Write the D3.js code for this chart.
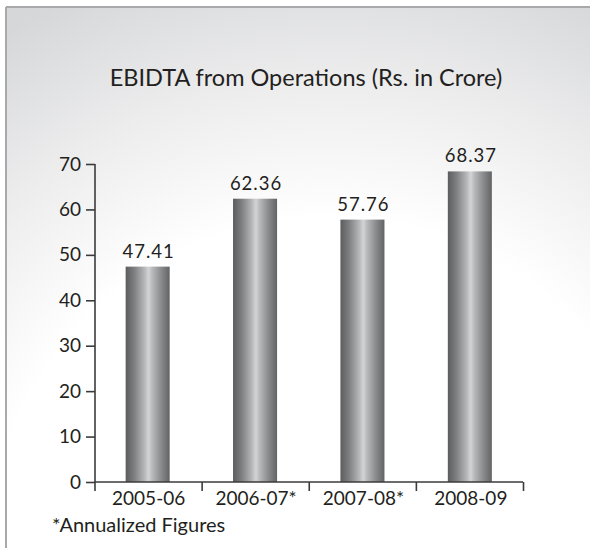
<!DOCTYPE html>
<html>
<head>
<meta charset="utf-8">
<script src="https://cdn.jsdelivr.net/npm/d3@7"></script>
<style>
  html, body { margin: 0; padding: 0; background: #ffffff; }
  svg { display: block; }
  text { font-family: Lato, "Open Sans", sans-serif; fill: #231f20; }
</style>
</head>
<body>
<svg id="chart" width="590" height="548"></svg>
<script>
const title = "EBIDTA from Operations (Rs. in Crore)";
const categories = ["2005-06", "2006-07*", "2007-08*", "2008-09"];
const values = [47.41, 62.36, 57.76, 68.37];
const yTicks = [0, 10, 20, 30, 40, 50, 60, 70];
const footnote = "*Annualized Figures";

const W = 590, H = 548;
const svg = d3.select("#chart");
const defs = svg.append("defs");

const bg = defs.append("radialGradient").attr("id", "bg")
  .attr("gradientUnits", "userSpaceOnUse")
  .attr("cx", 330).attr("cy", 560).attr("r", 620);
bg.append("stop").attr("offset", 0).attr("stop-color", "#ffffff");
bg.append("stop").attr("offset", 0.55).attr("stop-color", "#ffffff");
bg.append("stop").attr("offset", 0.78).attr("stop-color", "#ececed");
bg.append("stop").attr("offset", 1).attr("stop-color", "#d6d7d9");

svg.append("rect").attr("x", 0).attr("y", 0).attr("width", W).attr("height", H).attr("fill", "#fff");
svg.append("rect").attr("x", 6).attr("y", 7).attr("width", W).attr("height", H)
  .attr("fill", "url(#bg)");
svg.append("line").attr("x1", 6).attr("x2", W).attr("y1", 7).attr("y2", 7)
  .attr("stroke", "#a9a9ab").attr("stroke-width", 2);
svg.append("line").attr("x1", 6).attr("x2", 6).attr("y1", 7).attr("y2", H)
  .attr("stroke", "#a9a9ab").attr("stroke-width", 2);

const bar = defs.append("linearGradient").attr("id", "bar")
  .attr("x1", 0).attr("x2", 1).attr("y1", 0).attr("y2", 0);
[[0, "#5b5c5e"], [0.2, "#7f8082"], [0.42, "#b4b5b7"], [0.52, "#d3d4d6"], [0.6, "#b9babc"], [0.8, "#8b8c8e"], [1, "#626365"]]
  .forEach(([o, c]) => bar.append("stop").attr("offset", o).attr("stop-color", c));

const x0 = 94.5, x1 = 523;
const x = d3.scaleBand().domain(categories).range([x0, x1]).paddingInner(0.59).paddingOuter(0.29);
const y = d3.scaleLinear().domain([0, 70]).range([482, 164]);

svg.append("text").attr("x", 306).attr("y", 86).attr("text-anchor", "middle")
  .attr("font-size", 23.5).text(title);

svg.selectAll("rect.bar").data(values).join("rect").attr("class", "bar")
  .attr("x", (d, i) => x(categories[i])).attr("width", x.bandwidth())
  .attr("y", d => y(d)).attr("height", d => y(0) - y(d))
  .attr("fill", "url(#bar)");

svg.selectAll("text.val").data(values).join("text").attr("class", "val")
  .attr("x", (d, i) => x(categories[i]) + x.bandwidth() / 2 + 1)
  .attr("y", d => y(d) - 9)
  .attr("text-anchor", "middle").attr("font-size", 18.5).attr("letter-spacing", 1)
  .text(d => d.toFixed(2));

// Y axis
const yAxis = svg.append("g").attr("transform", "translate(95,0)")
  .call(d3.axisLeft(y).tickValues(yTicks).tickSize(9).tickPadding(5).tickSizeOuter(0));
yAxis.select(".domain").attr("d", `M0,${y(70)}V491`);
yAxis.selectAll("text").attr("font-size", 19).attr("fill", "#231f20").attr("font-family", "Lato, sans-serif");

// X axis
const xb = d3.scaleLinear().domain([0, 4]).range([x0, x1]);
const xAxis = svg.append("g").attr("transform", `translate(0,${y(0)})`)
  .call(d3.axisBottom(xb).tickValues([1, 2, 3, 4]).tickSize(9).tickFormat(""));
xAxis.select(".domain").attr("d", `M${x0},0H${x1}`);
svg.selectAll(".tick line, .domain").attr("stroke", "#3b3b3d").attr("stroke-width", 1.6);

svg.selectAll("text.cat").data(categories).join("text").attr("class", "cat")
  .attr("x", d => x(d) + x.bandwidth() / 2 + 1).attr("y", 505)
  .attr("text-anchor", "middle").attr("font-size", 19).text(d => d);

svg.append("text").attr("x", 52).attr("y", 532).attr("font-size", 20).text(footnote);
</script>
</body>
</html>
